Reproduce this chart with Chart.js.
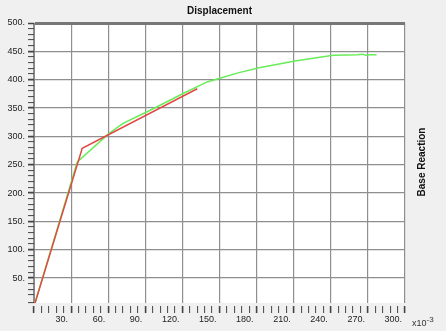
<!DOCTYPE html>
<html>
<head>
<meta charset="utf-8">
<script src="https://cdn.jsdelivr.net/npm/chart.js@4"></script>
<style>
  body { margin: 0; background: #f0f0f0; }
  #wrap { position: relative; width: 446px; height: 331px; font-family: "Liberation Sans", Arial, sans-serif; }
  #title { position: absolute; left: 34px; width: 371px; top: 5px; text-align: center; font-weight: bold; font-size: 10px; color: #111; }
  #ylab { position: absolute; left: 421px; top: 162px; transform: translate(-50%, -50%) rotate(-90deg); font-weight: bold; font-size: 10px; color: #111; white-space: nowrap; }
  #xunit { position: absolute; left: 412px; top: 315px; font-size: 9px; color: #333; }
  #xunit sup { font-size: 8px; }
</style>
</head>
<body>
<div id="wrap">
  <canvas id="chart" width="446" height="331"></canvas>
  <div id="title">Displacement</div>
  <div id="ylab">Base Reaction</div>
  <div id="xunit">x10<sup>-3</sup></div>
</div>
<script>
// displacement in 1e-3 units, base reaction
const dispGreen = [0, 35, 60, 72, 94, 121, 140, 151, 165, 182, 211, 242, 262, 266, 268, 272, 277];
const forceGreen = [0, 255, 304, 323, 346, 376, 396, 403, 412, 421, 433, 443, 444, 445, 443, 444, 444];
const dispRed = [0, 39, 132];
const forceRed = [0, 279, 384];

const xLabelStep = 30;
const yLabelStep = 50;

function toPoints(xs, ys) {
    return xs.map((x, i) => ({ x: x, y: ys[i] }));
}

const plotBg = {
    id: 'plotBg',
    beforeDraw(chart) {
        const { ctx, chartArea } = chart;
        ctx.save();
        ctx.fillStyle = '#ffffff';
        ctx.fillRect(chartArea.left, chartArea.top, chartArea.width, chartArea.height);
        ctx.restore();
    }
};

const tickFont = { family: 'Liberation Sans', size: 9 };

new Chart(document.getElementById('chart'), {
    type: 'scatter',
    data: {
        datasets: [
            {
                data: toPoints(dispRed, forceRed),
                showLine: true,
                borderColor: 'rgb(226, 72, 68)',
                borderWidth: 1.5,
                pointRadius: 0,
                order: 0
            },
            {
                data: toPoints(dispGreen, forceGreen),
                showLine: true,
                borderColor: 'rgb(104, 236, 88)',
                borderWidth: 1.5,
                pointRadius: 0,
                order: 1
            }
        ]
    },
    options: {
        responsive: false,
        animation: false,
        layout: { padding: { left: 0, right: 41, top: 23, bottom: 0 } },
        plugins: {
            legend: { display: false },
            tooltip: { enabled: false }
        },
        scales: {
            x: {
                type: 'linear',
                min: 0,
                max: 300,
                afterFit: (s) => { s.height = 28; },
                border: { display: false },
                ticks: {
                    stepSize: 6,
                    autoSkip: false,
                    maxRotation: 0,
                    align: 'end',
                    labelOffset: -3,
                    padding: 1,
                    color: '#222',
                    font: tickFont,
                    callback: (v) => (v > 0 && v % xLabelStep === 0) ? v + '.' : ''
                },
                grid: {
                    color: (c) => (c.tick && c.tick.value % xLabelStep === 0) ? '#8f8f8f' : 'rgba(0,0,0,0)',
                    lineWidth: 1.2,
                    tickColor: '#444',
                    tickLength: 10,
                    tickBorderDash: [0, 3, 7, 50],
                    tickWidth: (c) => (c.tick && c.tick.value % xLabelStep === 0) ? 1.6 : 1
                }
            },
            y: {
                min: 6,
                max: 500,
                afterFit: (s) => { s.width = 34; },
                border: { display: true, color: '#888', width: 1 },
                ticks: {
                    stepSize: 10,
                    autoSkip: false,
                    padding: 2,
                    color: '#222',
                    font: tickFont,
                    callback: (v) => (v % yLabelStep === 0) ? v + '.' : ''
                },
                grid: {
                    color: (c) => {
                        if (!c.tick) return 'rgba(0,0,0,0)';
                        if (c.tick.value === 500) return '#777';
                        return c.tick.value % yLabelStep === 0 ? '#8f8f8f' : 'rgba(0,0,0,0)';
                    },
                    lineWidth: (c) => (c.tick && c.tick.value === 500) ? 3 : 1.2,
                    tickColor: '#444',
                    tickLength: 7,
                    tickBorderDash: [0, 1, 6, 50],
                    tickWidth: (c) => (c.tick && c.tick.value % yLabelStep === 0) ? 1.6 : 1
                }
            }
        }
    },
    plugins: [plotBg]
});
</script>
</body>
</html>
